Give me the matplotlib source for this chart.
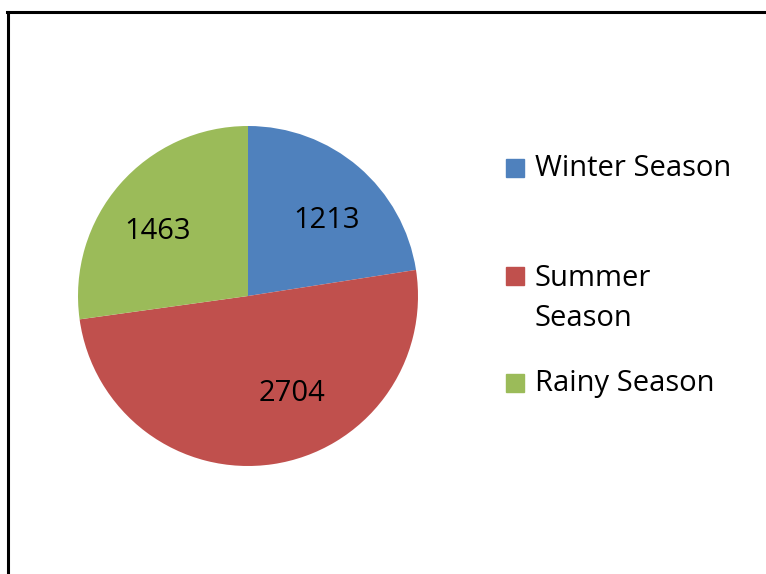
import matplotlib
matplotlib.use("Agg")
import matplotlib.pyplot as plt
from matplotlib.lines import Line2D

categories = ["Winter Season", "Summer Season", "Rainy Season"]
legend_labels = ["Winter Season", "Summer\nSeason", "Rainy Season"]
values = [1213, 2704, 1463]
colors = ["#4F81BD", "#C0504D", "#9BBB59"]

W, H = 766, 574
fig = plt.figure(figsize=(W / 100, H / 100), dpi=100)
plt.rcParams['font.family'] = ['Open Sans', 'DejaVu Sans']
FS = 21

# frame (left and top edges visible)
fig.add_artist(Line2D([8 / W, 8 / W], [0, 1 - 12 / H], color="black", lw=2.2, transform=fig.transFigure))
fig.add_artist(Line2D([7 / W, 1], [1 - 12 / H, 1 - 12 / H], color="black", lw=2.2, transform=fig.transFigure))

cx, cy, r = 248, 296, 170
ax = fig.add_axes([(cx - r) / W, (H - cy - r) / H, 2 * r / W, 2 * r / H])
wedges, texts = ax.pie(values, colors=colors, startangle=90, counterclock=False,
                       labels=[str(v) for v in values], labeldistance=0.66,
                       textprops=dict(fontsize=FS, color="black", ha="center", va="center"))
# Excel-like label placement nudges
offsets = [(0.03, -0.055), (0.16, 0.08), (-0.035, -0.053)]
for t, (dx, dy) in zip(texts, offsets):
    x, y = t.get_position()
    t.set_position((x + dx, y + dy))
ax.set_aspect("equal")
ax.set_xlim(-1, 1)
ax.set_ylim(-1, 1)
ax.axis("off")

# legend
ys = [169, 298, 384]
sq = [168, 276, 383]
for lab, col, yy, sy in zip(legend_labels, colors, ys, sq):
    fig.patches.append(plt.Rectangle((506 / W, 1 - (sy + 9) / H), 18 / W, 18 / H,
                                     transform=fig.transFigure, color=col))
    fig.text(535 / W, 1 - yy / H, lab, fontsize=FS, va="center", ha="left", linespacing=1.5)

fig.savefig("out.png", dpi=100)
